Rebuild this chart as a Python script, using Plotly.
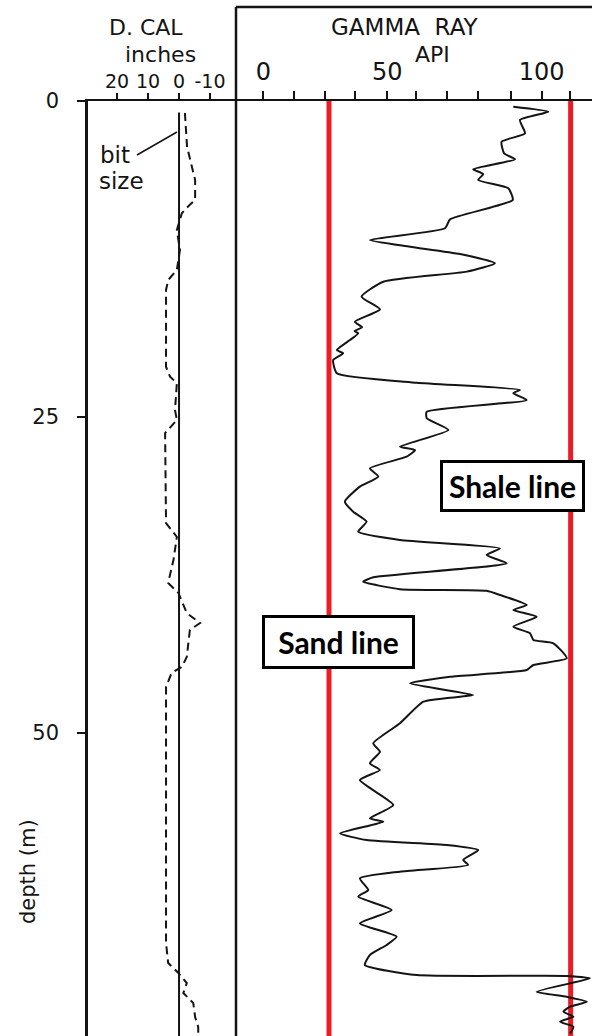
import plotly.graph_objects as go

# ---------------- data ----------------
# Gamma ray log (API) vs depth (m)
gr_depth = [0.45, 0.85, 1.5, 2.56, 3.22, 4.14, 4.61, 5.40, 5.78, 6.25, 6.91, 7.83, 9.36, 10.07,
            11.0, 11.53, 12.11, 12.84, 13.50, 14.30, 15.48, 16.48, 17.46, 17.9, 18.2, 18.38,
            18.91, 19.70, 19.96, 20.49, 21.54, 22.29, 22.86, 23.12, 23.66, 24.58, 25.10, 26.03,
            27.35, 27.61, 28.14, 29.06, 29.72, 30.51, 31.70, 32.49, 33.28, 34.07, 34.73, 35.39,
            35.92, 36.57, 37.68, 38.03, 38.62, 38.75, 39.08, 39.87, 40.27, 40.80, 41.59, 42.11,
            42.64, 42.90, 44.09, 44.62, 45.02, 45.55, 46.07, 46.99, 47.13, 47.52, 49.23, 50.81,
            51.48, 52.40, 52.93, 53.72, 55.70, 56.75, 57.02, 57.94, 58.47, 58.86, 59.26, 60.05,
            60.44, 60.97, 61.50, 62.42, 62.95, 64.00, 65.06, 66.11, 66.77, 67.56, 68.35, 69.15,
            69.22, 69.41, 70.47, 70.87, 71.26, 71.65, 72.05, 72.45, 72.84, 73.24, 73.77]
gr_api = [89.8, 102.4, 92.2, 94.0, 85.6, 86.5, 90.4, 75.4, 79.0, 77.2, 88.0, 89.6, 67.1, 65.3,
          38.3, 52.7, 70.7, 83.2, 73.1, 43.1, 35.3, 41.9, 32.9, 35.5, 32.8, 34.1,
          31.1, 26.4, 28.7, 25.1, 26.4, 55.1, 92.2, 89.8, 94.6, 58.7, 58.7, 66.5,
          49.1, 54.5, 51.5, 38.3, 41.3, 34.7, 29.3, 32.3, 37.1, 34.1, 49.1, 85.0,
          80.2, 87.4, 39.5, 35.9, 49.1, 80.2, 85.0, 94.6, 89.8, 98.2, 89.8, 95.8,
          97.0, 104.2, 109.0, 97.0, 94.6, 67.1, 52.7, 75.4, 70.7, 57.5, 49.1, 39.5,
          41.9, 38.3, 41.9, 34.7, 46.7, 38.3, 43.1, 27.6, 37.1, 65.9, 77.2, 71.8,
          73.6, 49.1, 34.7, 37.7, 34.1, 46.1, 34.7, 47.9, 44.3, 38.3, 36.5, 55.1,
          109.0, 117.3, 98.2, 109.0, 116.2, 110.2, 107.8, 111.4, 106.6, 111.4, 110.2]

# Differential caliper (inches) vs depth (m)
cal_depth = [0.95, 3.64, 6.25, 7.83, 8.2, 8.88, 10.21, 11.79, 13.37, 14.16, 14.95, 21.02, 21.81,
             22.33, 24.45, 25.24, 26.27, 33.39, 34.49, 36.31, 38.13, 38.92, 40.51, 41.30, 41.85,
             43.99, 44.78, 45.25, 46.36, 66.61, 68.20, 68.99, 69.78, 70.57, 71.36, 72.47, 73.26, 74.05]
cal_in = [-1.9, -2.6, -5.2, -5.2, -3.5, -0.9, 0.7, -0.3, 0.7, 3.5, 4.2, 4.2, 2.9,
          0.7, 1.3, 0.7, 4.5, 4.2, 0.7, 1.8, 3.5, 0.2, -2.5, -6.8, -3.5,
          -2.5, -0.9, 2.4, 4.2, 4.2, 3.5, 0.2, -2.5, -1.4, -4.6, -5.2, -6.2, -6.2]

bit_size_in = 0.0
bit_depth = [0.9, 74.05]

sand_line_api = 23.6
shale_line_api = 110.4

depth_ticks = [0, 25, 50]
cal_ticks = [20, 10, 0, -10]
cal_ticktext = ["20", "10", "0", "-10"]
gr_ticks = [0, 11, 22, 33, 44.5, 55, 66, 77, 89, 100, 110]
gr_ticktext = ["0", "", "", "", "50", "", "", "", "", "100", ""]

# ---------------- figure ----------------
W, H = 592, 1036
FONT = "DejaVu Sans, Liberation Sans, sans-serif"
INK = "#141414"
RED = "#ed1c24"


def px(x):
    return x / W


def py(y):
    return 1 - y / H


fig = go.Figure()

# bit size reference line
fig.add_trace(go.Scatter(x=[bit_size_in, bit_size_in], y=bit_depth, mode="lines",
                         line=dict(color=INK, width=2), xaxis="x", yaxis="y",
                         hoverinfo="skip", showlegend=False))
# caliper curve
fig.add_trace(go.Scatter(x=cal_in, y=cal_depth, mode="lines",
                         line=dict(color=INK, width=2, dash="8px,5px"), xaxis="x", yaxis="y",
                         hoverinfo="skip", showlegend=False))
# sand / shale lines
for v in (sand_line_api, shale_line_api):
    fig.add_trace(go.Scatter(x=[v, v], y=[0, 74.5], mode="lines",
                             line=dict(color=RED, width=5), xaxis="x2", yaxis="y",
                             hoverinfo="skip", showlegend=False))
# gamma ray curve
fig.add_trace(go.Scatter(x=gr_api, y=gr_depth, mode="lines",
                         line=dict(color=INK, width=2, shape="spline", smoothing=0.5),
                         xaxis="x2", yaxis="y", hoverinfo="skip", showlegend=False))

ydom_top = 1 - 101 / H
depth_bottom = (H - 101) / 12.64

fig.update_layout(
    template="none",
    width=W, height=H,
    margin=dict(l=0, r=0, t=0, b=0, pad=0, autoexpand=False),
    paper_bgcolor="white", plot_bgcolor="white",
    showlegend=False,
    font=dict(family=FONT, color=INK),
    xaxis=dict(domain=[px(88), px(236)], range=[29.4, -18.4], side="top", anchor="y",
               automargin=False,
               tickmode="array", tickvals=cal_ticks, ticktext=cal_ticktext,
               ticks="outside", ticklen=6, tickwidth=2, tickcolor=INK,
               ticklabelstandoff=-3,
               tickfont=dict(size=19, family=FONT, color=INK),
               showline=True, linecolor=INK, linewidth=2, showgrid=False, zeroline=False,
               fixedrange=True),
    xaxis2=dict(domain=[px(236), 1], range=[(236 - 263.3) / 2.784, (592 - 263.3) / 2.784],
                side="top", anchor="y", automargin=False,
                tickmode="array", tickvals=gr_ticks, ticktext=gr_ticktext,
                ticks="outside", ticklen=8, tickwidth=2, tickcolor=INK,
                ticklabelstandoff=1,
                tickfont=dict(size=24, family=FONT, color=INK),
                showline=True, linecolor=INK, linewidth=2, showgrid=False, zeroline=False,
                fixedrange=True),
    yaxis=dict(domain=[0, ydom_top], range=[depth_bottom, 0], anchor="x", automargin=False,
               tickmode="array", tickvals=depth_ticks, ticktext=[str(t) for t in depth_ticks],
               ticks="outside", ticklen=8, tickwidth=2, tickcolor=INK,
               ticklabelstandoff=14,
               tickfont=dict(size=21, family=FONT, color=INK),
               showline=True, linecolor=INK, linewidth=2.5, showgrid=False, zeroline=False,
               fixedrange=True),
)

shapes = [
    # border between caliper and gamma-ray tracks (runs up into header box)
    dict(type="line", xref="paper", yref="paper", x0=px(236), x1=px(236), y0=0, y1=py(7),
         line=dict(color=INK, width=2.5)),
    # top of the gamma-ray header box
    dict(type="line", xref="paper", yref="paper", x0=px(236), x1=1, y0=py(7), y1=py(7),
         line=dict(color=INK, width=2.5)),
    # leader from "bit size" label to the bit-size line
    dict(type="line", xref="paper", yref="paper", x0=px(137), x1=px(177), y0=py(155), y1=py(132),
         line=dict(color=INK, width=1.5)),
]
fig.update_layout(shapes=shapes)

ann = [
    dict(text="D. CAL", x=px(146), y=py(28), size=22),
    dict(text="inches", x=px(160), y=py(55), size=22),
    dict(text="GAMMA  RAY", x=px(405), y=py(27), size=23),
    dict(text="API", x=px(432), y=py(54), size=22),
    dict(text="bit", x=px(115), y=py(155), size=23),
    dict(text="size", x=px(121), y=py(181), size=23),
]
annotations = []
for a in ann:
    annotations.append(dict(text=a["text"], x=a["x"], y=a["y"], xref="paper", yref="paper",
                            xanchor="center", yanchor="middle", showarrow=False,
                            font=dict(size=a["size"], family=FONT, color=INK)))
annotations.append(dict(text="depth (m)", x=px(28), y=py(872), xref="paper", yref="paper",
                        textangle=-90, showarrow=False, xanchor="center", yanchor="middle",
                        font=dict(size=21, family=FONT, color=INK)))
# labelled boxes
box_font = dict(size=30, family="Lato, Open Sans, sans-serif", color="black")
annotations.append(dict(text="<b>Shale line</b>", x=89.5, y=30.46, xref="x2", yref="y",
                        showarrow=False, xanchor="center", yanchor="middle",
                        width=133, height=40, align="center",
                        font=box_font, bgcolor="white", bordercolor="black", borderwidth=3,
                        borderpad=3))
annotations.append(dict(text="<b>Sand line</b>", x=26.9, y=42.8, xref="x2", yref="y",
                        showarrow=False, xanchor="center", yanchor="middle",
                        width=141, height=42, align="center",
                        font=box_font, bgcolor="white", bordercolor="black", borderwidth=3,
                        borderpad=3))
fig.update_layout(annotations=annotations)

fig.write_html("out.html", config={"displayModeBar": False})
